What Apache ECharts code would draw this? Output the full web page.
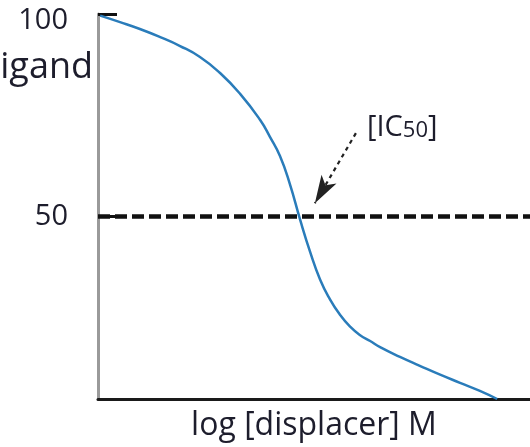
<!DOCTYPE html>
<html><head><meta charset="utf-8">
<script src="https://cdn.jsdelivr.net/npm/echarts@6/dist/echarts.min.js"></script>
<style>html,body{margin:0;padding:0;background:#fff}#c{width:530px;height:447px}</style>
</head><body><div id="c"></div>
<script>
// displacement curve (x: arbitrary log-concentration units 0..100, y: % bound ligand)
const curveX = [0.5, 5.1, 9.7, 14.4, 19.0, 23.6, 28.2, 32.9, 37.5, 39.8, 42.1, 44.4, 46.8, 49.1, 51.4, 53.7, 56.0, 58.3, 60.6, 63.0, 65.3, 69.9, 74.5, 79.2, 83.8, 88.4, 92.4];
const curveY = [99.6, 98.0, 96.3, 94.3, 92.1, 89.4, 85.5, 80.3, 73.9, 69.7, 65.0, 58.1, 49.2, 41.3, 34.5, 29.6, 25.8, 22.9, 20.8, 19.3, 17.8, 15.4, 13.2, 11.0, 9.0, 7.0, 5.0];
const yTicks = [50, 100];
const halfLevel = 50;
const arrowFrom = [59.7, 70.6];
const arrowTo = [50.2, 53.3];
const xName = 'log [displacer] M';
const yNameVisible = 'igand';

const FONT = 'Open Sans';
const TXT = '#1d1d2c';
const chart = echarts.init(document.getElementById('c'), null, {renderer: 'canvas'});
chart.setOption({
  animation: false,
  grid: {left: 98, right: 0, top: 14, bottom: 48},
  xAxis: {
    type: 'value', min: 0, max: 100,
    axisLine: {lineStyle: {color: '#1a1a1a', width: 3}},
    axisTick: {show: false}, axisLabel: {show: false}, splitLine: {show: false},
    name: xName, nameLocation: 'middle', nameGap: 11,
    nameTextStyle: {fontFamily: FONT, fontSize: 32, color: TXT, verticalAlign: 'top'}
  },
  yAxis: {
    type: 'value', min: 5, max: 100,
    axisLine: {show: true, lineStyle: {color: '#9a9a9a', width: 3}},
    axisTick: {show: true, inside: true, length: 19, customValues: yTicks, lineStyle: {color: '#111', width: 3}},
    axisLabel: {
      customValues: yTicks, margin: 30, fontFamily: FONT, fontSize: 29, color: TXT,
      formatter: v => v === 100 ? '{t|100}' : String(v),
      rich: {t: {fontFamily: FONT, fontSize: 29, color: TXT, padding: [13, 0, 0, 0]}}
    },
    splitLine: {show: false}
  },
  graphic: [
    {type: 'text', x: 93, y: 68, style: {text: yNameVisible, fontFamily: FONT, fontSize: 36, fill: TXT, align: 'right', verticalAlign: 'middle'}},
    {type: 'text', x: 367, y: 122, style: {
      text: '{b|[IC}{s|50}{b|]}', verticalAlign: 'middle', align: 'left',
      rich: {b: {fontFamily: FONT, fontSize: 29, fill: TXT, verticalAlign: 'bottom'},
             s: {fontFamily: FONT, fontSize: 22, fill: TXT, padding: [18, 0, 0, 0], verticalAlign: 'bottom'}}
    }}
  ],
  series: [
    {
      type: 'line', data: curveX.map((x, i) => [x, curveY[i]]),
      smooth: 0.5, showSymbol: false, symbol: 'none',
      lineStyle: {color: '#2a7cba', width: 2.5},
      markLine: {
        silent: true, animation: false,
        data: [
          [{coord: [0, halfLevel], symbol: 'none', lineStyle: {type: [12, 5], width: 4.5, color: '#111'}},
           {coord: [100, halfLevel], symbol: 'none'}],
          [{coord: arrowFrom, symbol: 'none', lineStyle: {type: [4, 4], width: 2.2, color: '#222'}},
           {coord: arrowTo, symbol: 'arrow', symbolSize: [13, 28]}]
        ],
        label: {show: false}
      }
    }
  ]
});
</script></body></html>
